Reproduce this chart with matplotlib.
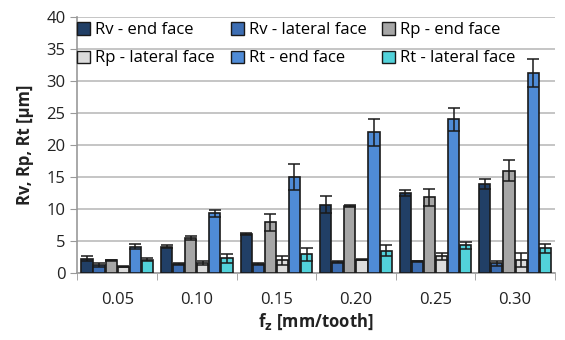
import matplotlib
matplotlib.use("Agg")
import matplotlib.pyplot as plt
from matplotlib.patches import Patch
from matplotlib.legend import Legend
import numpy as np

categories = ["0.05", "0.10", "0.15", "0.20", "0.25", "0.30"]
series_names = ["Rv - end face", "Rv - lateral face", "Rp - end face",
                "Rp - lateral face", "Rt - end face", "Rt - lateral face"]
rv_end = [2.2, 4.1, 6.1, 10.7, 12.5, 13.9]
rv_end_err = [0.4, 0.2, 0.2, 1.3, 0.5, 0.8]
rv_lat = [1.3, 1.4, 1.4, 1.7, 1.8, 1.5]
rv_lat_err = [0.3, 0.1, 0.1, 0.2, 0.1, 0.4]
rp_end = [2.0, 5.5, 7.9, 10.5, 11.8, 16.0]
rp_end_err = [0.1, 0.3, 1.3, 0.2, 1.4, 1.7]
rp_lat = [1.0, 1.5, 2.0, 2.1, 2.6, 2.1]
rp_lat_err = [0.1, 0.3, 0.7, 0.1, 0.6, 1.1]
rt_end = [4.1, 9.3, 15.0, 22.0, 24.0, 31.3]
rt_end_err = [0.4, 0.5, 2.0, 2.1, 1.8, 2.2]
rt_lat = [2.1, 2.3, 2.9, 3.5, 4.3, 3.9]
rt_lat_err = [0.3, 0.7, 1.0, 0.9, 0.6, 0.7]

values = [rv_end, rv_lat, rp_end, rp_lat, rt_end, rt_lat]
errors = [rv_end_err, rv_lat_err, rp_end_err, rp_lat_err, rt_end_err, rt_lat_err]
colors = ["#213F66", "#3D6EB3", "#A6A6A6", "#DCDCDC", "#4F8BD6", "#52D2DA"]

plt.rcParams['font.family'] = ['Open Sans', 'DejaVu Sans']
fig = plt.figure(figsize=(5.65, 3.4), dpi=100)
ax = fig.add_axes([0.137, 0.197, 0.845, 0.753])

x = np.arange(len(categories))
w = 0.152
for i, (vals, errs, c, name) in enumerate(zip(values, errors, colors, series_names)):
    off = (i - 2.5) * w
    ax.bar(x + off, vals, w * 0.92, color=c, edgecolor="#1a1a1a", linewidth=1.2,
           yerr=errs, capsize=4, error_kw=dict(ecolor="#1a1a1a", elinewidth=1.1, capthick=1.1),
           label=name, zorder=3)

ax.set_ylim(0, 40)
ax.set_yticks(np.arange(0, 41, 5))
ax.set_xlim(-0.5, len(categories) - 0.5)
ax.set_xticks(x)
ax.set_xticklabels(categories)
ax.set_xticks(np.arange(-0.5, len(categories), 1), minor=True)
ax.tick_params(axis='x', which='major', length=0, pad=14, labelsize=12, colors="#222222")
ax.tick_params(axis='x', which='minor', length=5, color="#999999", direction='out')
ax.tick_params(axis='y', length=5, color="#999999", labelsize=12, colors="#222222")
ax.yaxis.grid(True, color="#BBBBBB", linewidth=1.2, zorder=0)
ax.set_axisbelow(True)
for s in ["top", "right"]:
    ax.spines[s].set_visible(False)
for s in ["left", "bottom"]:
    ax.spines[s].set_color("#999999")
    ax.spines[s].set_linewidth(1.2)

ax.set_ylabel("Rv, Rp, Rt [µm]", fontsize=12, fontweight="bold", color="#222222", labelpad=9)
ax.set_xlabel("f$_\\mathbf{z}$ [mm/tooth]", fontsize=12, fontweight="bold", color="#222222", labelpad=2)

# legend entries placed in a 3x2 row-major grid
col_x = [0.0, 0.322, 0.638]
row_y = [0.948, 0.838]
for i, (name, c) in enumerate(zip(series_names, colors)):
    r, cidx = divmod(i, 3)
    h = Patch(facecolor=c, edgecolor="#1a1a1a", linewidth=1.0)
    lg = Legend(ax, [h], [name], loc="center left", bbox_to_anchor=(col_x[cidx], row_y[r]),
                frameon=False, fontsize=12, handlelength=0.75, handleheight=0.75,
                handletextpad=0.3, borderaxespad=0.0, borderpad=0.0)
    ax.add_artist(lg)

fig.savefig("out.png", dpi=100)
